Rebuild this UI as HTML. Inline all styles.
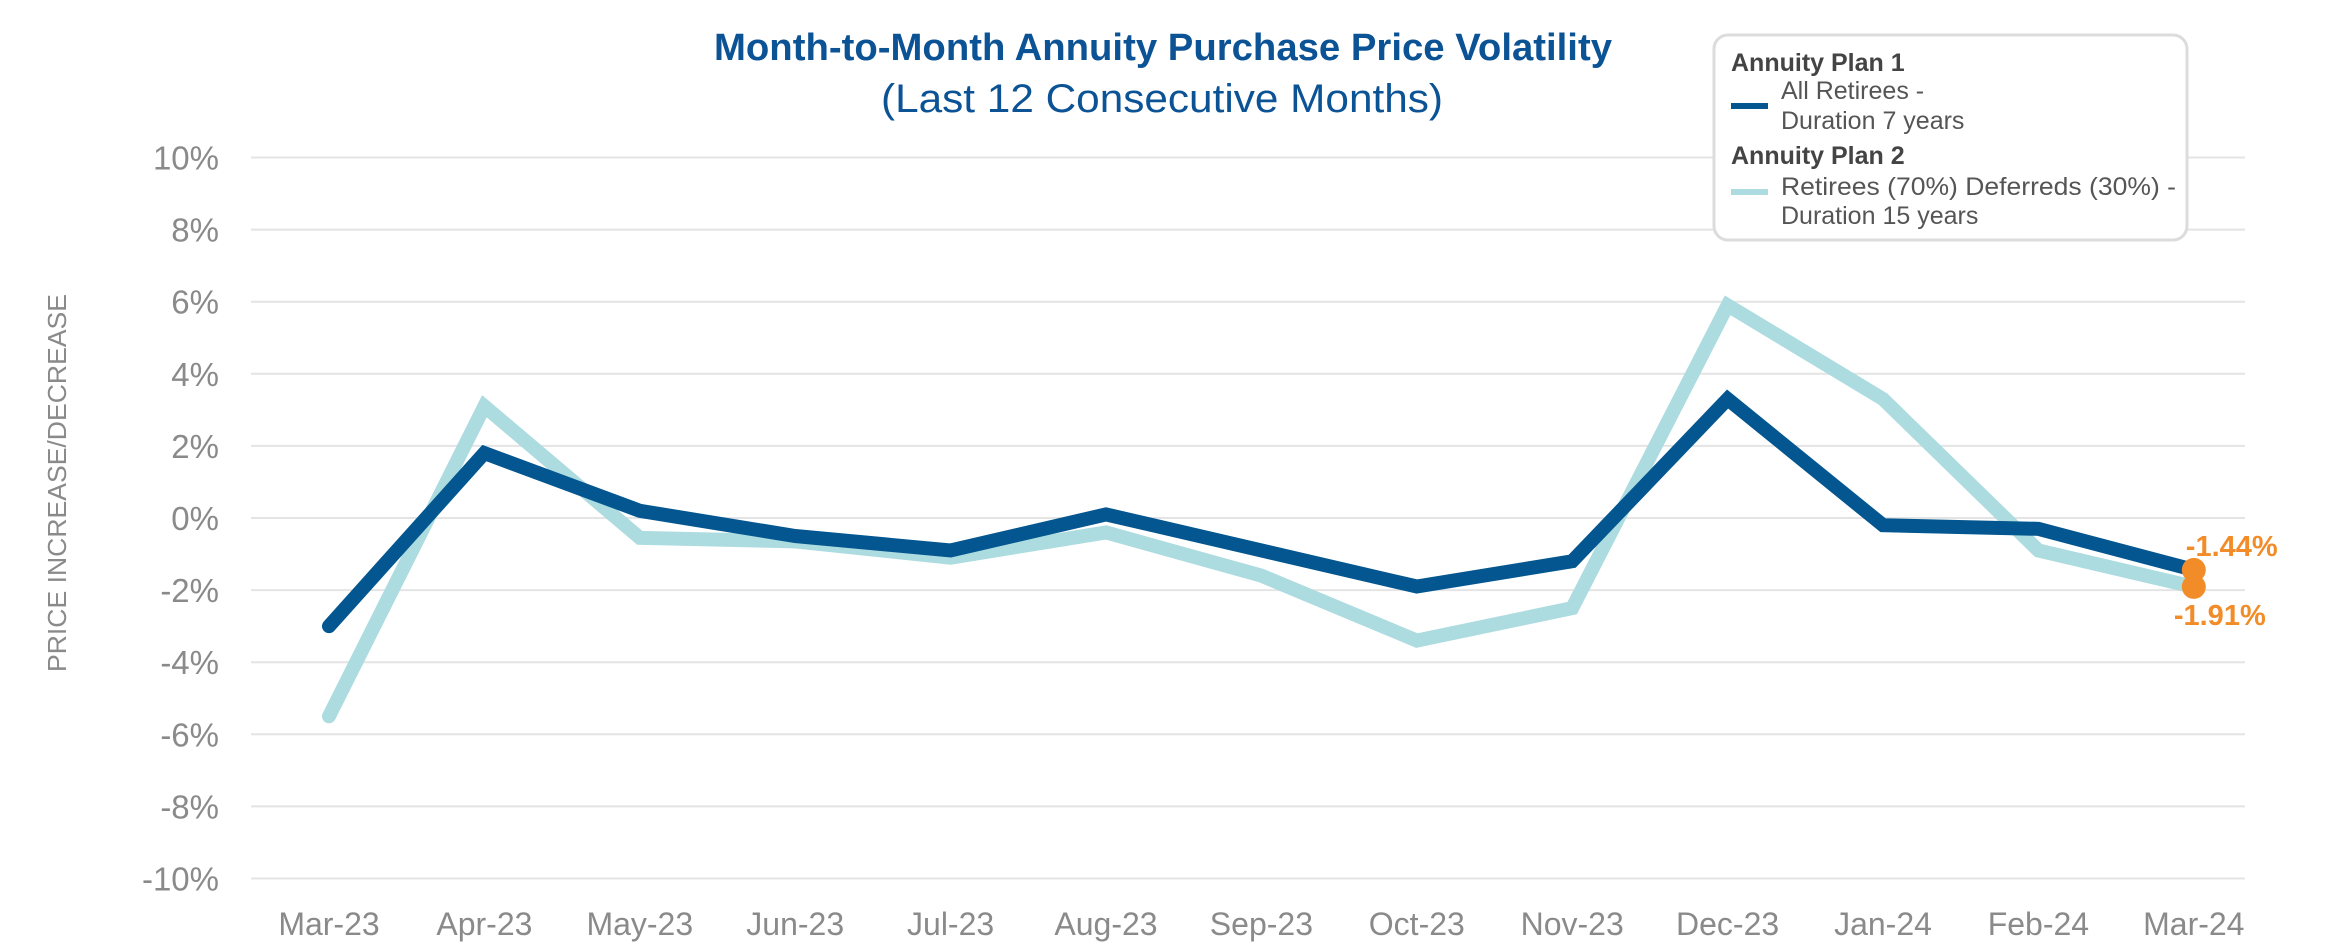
<!DOCTYPE html>
<html><head><meta charset="utf-8"><style>
html,body{margin:0;padding:0;background:#fff;}
svg{display:block;font-family:"Liberation Sans",sans-serif;}
</style></head><body>
<svg id="chart" width="2326" height="949" viewBox="0 0 2326 949" xmlns="http://www.w3.org/2000/svg">
<text x="1163" y="60" text-anchor="middle" font-size="38" font-weight="bold" fill="#0b5395" textLength="898" lengthAdjust="spacingAndGlyphs">Month-to-Month Annuity Purchase Price Volatility</text>
<text x="1162" y="112" text-anchor="middle" font-size="40" fill="#0b5395" textLength="562" lengthAdjust="spacingAndGlyphs">(Last 12 Consecutive Months)</text>
<text transform="translate(66,483) rotate(-90)" text-anchor="middle" font-size="26" fill="#8a8a8a" textLength="378" lengthAdjust="spacingAndGlyphs">PRICE INCREASE/DECREASE</text>
<g id="grid"></g><g id="series"></g>
<g>
<rect x="1714" y="35" width="473" height="205" rx="14" fill="#fff" stroke="#dcdcdc" stroke-width="3"/>
<text x="1731" y="71" font-size="25" font-weight="bold" fill="#444">Annuity Plan 1</text>
<line x1="1731" y1="106" x2="1768" y2="106" stroke="#03568f" stroke-width="6"/>
<text x="1781" y="99" font-size="25" fill="#555">All Retirees -</text>
<text x="1781" y="129" font-size="25" fill="#555">Duration 7 years</text>
<text x="1731" y="164" font-size="25" font-weight="bold" fill="#444">Annuity Plan 2</text>
<line x1="1731" y1="192" x2="1768" y2="192" stroke="#acdbe0" stroke-width="6"/>
<text x="1781" y="195" font-size="25" fill="#555" textLength="395" lengthAdjust="spacingAndGlyphs">Retirees (70%) Deferreds (30%) -</text>
<text x="1781" y="224" font-size="25" fill="#555">Duration 15 years</text>
</g>
</svg>
<script>
const categories=["Mar-23","Apr-23","May-23","Jun-23","Jul-23","Aug-23","Sep-23","Oct-23","Nov-23","Dec-23","Jan-24","Feb-24","Mar-24"];
const plan1=[-3.0,1.8,0.2,-0.5,-0.9,0.1,-0.9,-1.9,-1.2,3.3,-0.2,-0.3,-1.44];
const plan2=[-5.5,3.1,-0.55,-0.65,-1.1,-0.4,-1.6,-3.4,-2.5,5.9,3.3,-0.9,-1.91];
const yTicks=[10,8,6,4,2,0,-2,-4,-6,-8,-10];
const NS="http://www.w3.org/2000/svg";
const X0=329,XSTEP=155.4,PL=251,PR=2245;
function xs(i){return X0+i*XSTEP;}
function ys(v){return 518-v*36.05;}
function mk(tag,attrs,parent){const e=document.createElementNS(NS,tag);for(const k in attrs)e.setAttribute(k,attrs[k]);parent.appendChild(e);return e;}
const grid=document.getElementById('grid'),ser=document.getElementById('series');
yTicks.forEach(t=>{
 const l=mk('line',{x1:PL,x2:PR,y1:ys(t),y2:ys(t),stroke:'#e4e4e4','stroke-width':2},grid);
 
 
 const tx=mk('text',{x:219,y:ys(t)+12,'text-anchor':'end','font-size':33,fill:'#8a8a8a'},grid);
 tx.textContent=t+'%';
 
 
});
categories.forEach((c,i)=>{
 const tx=mk('text',{x:xs(i),y:935,'text-anchor':'middle','font-size':32,fill:'#8a8a8a'},grid);
 tx.textContent=c;
 
 
});
function line(data,color,name){
 const p=mk('polyline',{points:data.map((v,i)=>xs(i)+','+ys(v)).join(' '),fill:'none',stroke:color,'stroke-width':14,'stroke-linejoin':'miter','stroke-linecap':'round'},ser);
 
 
}
line(plan2,'#acdbe0','plan2-line');
line(plan1,'#03568f','plan1-line');
const n=categories.length-1;
[[plan1,'end-point-plan1'],[plan2,'end-point-plan2']].forEach(([d,nm])=>{
 const c=mk('circle',{cx:xs(n),cy:ys(d[n]),r:12,fill:'#f28c28'},ser);
 
 
});
const l1=mk('text',{x:xs(n)-8,y:ys(plan1[n])-14,'font-size':29,'font-weight':'bold',fill:'#f28c28'},ser);
l1.textContent=plan1[n].toFixed(2)+'%';


const l2=mk('text',{x:xs(n)+26,y:ys(plan2[n])+38,'text-anchor':'middle','font-size':29,'font-weight':'bold',fill:'#f28c28'},ser);
l2.textContent=plan2[n].toFixed(2)+'%';


</script>
</body></html>
